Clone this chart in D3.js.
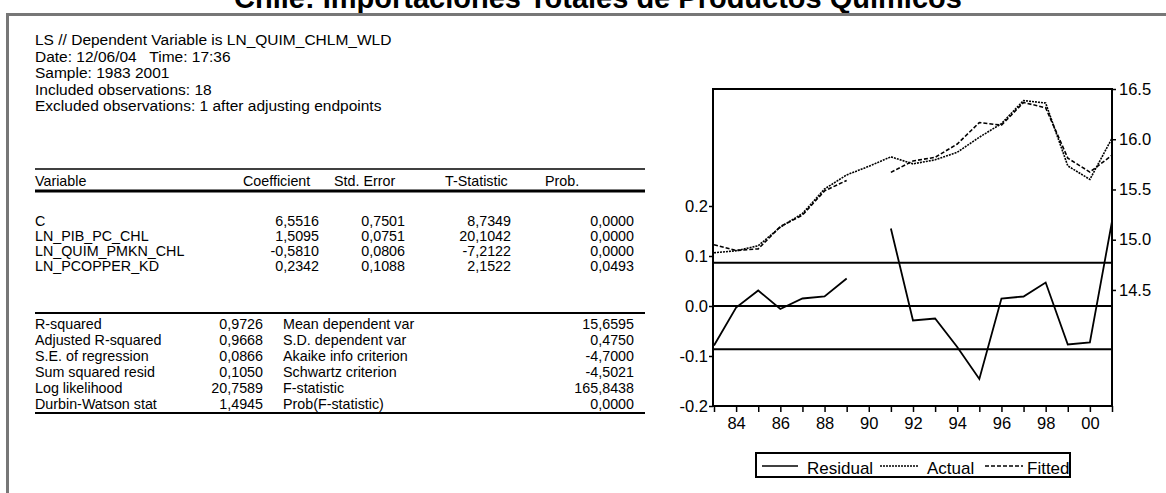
<!DOCTYPE html>
<html>
<head>
<meta charset="utf-8">
<script src="https://cdn.jsdelivr.net/npm/d3@7/dist/d3.min.js"></script>
<style>
  body { margin: 0; background: #fff; }
  svg { display: block; font-family: Arial, "Liberation Sans", sans-serif; }
  text { white-space: pre; }
</style>
</head>
<body>
<svg id="chart" width="1166" height="493"></svg>
<script>
// ---- regression output text ----
const titleText = "Chile: Importaciones Totales de Productos Químicos";
const headerLines = [
  "LS // Dependent Variable is LN_QUIM_CHLM_WLD",
  "Date: 12/06/04   Time: 17:36",
  "Sample: 1983 2001",
  "Included observations: 18",
  "Excluded observations: 1 after adjusting endpoints"
];
const coefColumns = ["Variable", "Coefficient", "Std. Error", "T-Statistic", "Prob."];
const coefVariables = ["C", "LN_PIB_PC_CHL", "LN_QUIM_PMKN_CHL", "LN_PCOPPER_KD"];
const coefValues = ["6,5516", "1,5095", "-0,5810", "0,2342"];
const coefStdErr = ["0,7501", "0,0751", "0,0806", "0,1088"];
const coefTStat = ["8,7349", "20,1042", "-7,2122", "2,1522"];
const coefProb = ["0,0000", "0,0000", "0,0000", "0,0493"];
const statNamesLeft = ["R-squared", "Adjusted R-squared", "S.E. of regression",
  "Sum squared resid", "Log likelihood", "Durbin-Watson stat"];
const statValuesLeft = ["0,9726", "0,9668", "0,0866", "0,1050", "20,7589", "1,4945"];
const statNamesRight = ["Mean dependent var", "S.D. dependent var", "Akaike info criterion",
  "Schwartz criterion", "F-statistic", "Prob(F-statistic)"];
const statValuesRight = ["15,6595", "0,4750", "-4,7000", "-4,5021", "165,8438", "0,0000"];

// ---- residual / actual / fitted series ----
const years = [1983, 1984, 1985, 1986, 1987, 1988, 1989, 1990, 1991, 1992,
  1993, 1994, 1995, 1996, 1997, 1998, 1999, 2000, 2001];
const residual = [-0.079, -0.003, 0.031, -0.006, 0.015, 0.019, 0.055, null, 0.155, -0.029,
  -0.025, -0.082, -0.146, 0.015, 0.019, 0.047, -0.077, -0.073, 0.169];
const actual = [14.870, 14.890, 14.940, 15.125, 15.260, 15.505, 15.645, 15.730, 15.825, 15.755,
  15.795, 15.870, 16.020, 16.155, 16.385, 16.360, 15.735, 15.600, 16.010];
const fitted = [14.949, 14.893, 14.909, 15.131, 15.245, 15.486, 15.590, null, 15.670, 15.784,
  15.820, 15.952, 16.166, 16.140, 16.366, 16.313, 15.812, 15.673, 15.841];
const seRegression = 0.0866;
const residTicks = [-0.2, -0.1, 0.0, 0.1, 0.2];
const levelTicks = [14.5, 15.0, 15.5, 16.0, 16.5];
const legendLabels = ["Residual", "Actual", "Fitted"];

const svg = d3.select("#chart");

// ---- page frame and title ----
svg.append("text")
  .attr("x", 598).attr("y", 8)
  .attr("text-anchor", "middle")
  .attr("font-size", 29).attr("font-weight", "bold")
  .text(titleText);
svg.append("rect").attr("x", 6).attr("y", 13).attr("width", 1166).attr("height", 3).attr("fill", "#777");
svg.append("rect").attr("x", 6).attr("y", 13).attr("width", 3).attr("height", 480).attr("fill", "#777");

// ---- estimation header ----
const left = 35;
svg.append("g").selectAll("text").data(headerLines).join("text")
  .attr("x", left).attr("y", (d, i) => 45 + i * 16.6)
  .attr("font-size", 15.5)
  .text(d => d);

// ---- coefficient table ----
const tableRight = 645;
const colRight = [null, 319, 405, 511, 634];
const headerLeft = [null, 243, 334, 445, 545];
const headerY = 186;
const tbl = svg.append("g").attr("font-size", 14.3);
tbl.append("line").attr("x1", left).attr("x2", tableRight).attr("y1", 169).attr("y2", 169)
  .attr("stroke", "#000").attr("stroke-width", 1.5);
tbl.append("line").attr("x1", left).attr("x2", tableRight).attr("y1", 191).attr("y2", 191)
  .attr("stroke", "#000").attr("stroke-width", 3);
tbl.append("text").attr("x", left).attr("y", headerY).text(coefColumns[0]);
coefColumns.slice(1).forEach((c, i) => {
  tbl.append("text").attr("x", headerLeft[i + 1]).attr("y", headerY).text(c);
});
const coefCols = [coefValues, coefStdErr, coefTStat, coefProb];
coefVariables.forEach((v, r) => {
  const y = 226 + r * 15;
  tbl.append("text").attr("x", left).attr("y", y).text(v);
  coefCols.forEach((col, c) => {
    tbl.append("text").attr("x", colRight[c + 1]).attr("y", y)
      .attr("text-anchor", "end").text(col[r]);
  });
});

// ---- summary statistics ----
tbl.append("line").attr("x1", left).attr("x2", tableRight).attr("y1", 313).attr("y2", 313)
  .attr("stroke", "#000").attr("stroke-width", 2);
tbl.append("line").attr("x1", left).attr("x2", tableRight).attr("y1", 413).attr("y2", 413)
  .attr("stroke", "#000").attr("stroke-width", 2);
statNamesLeft.forEach((n, r) => {
  const y = 329 + r * 16;
  tbl.append("text").attr("x", left).attr("y", y).text(n);
  tbl.append("text").attr("x", 263).attr("y", y).attr("text-anchor", "end").text(statValuesLeft[r]);
  tbl.append("text").attr("x", 283).attr("y", y).text(statNamesRight[r]);
  tbl.append("text").attr("x", 634).attr("y", y).attr("text-anchor", "end").text(statValuesRight[r]);
});

// ---- residual plot ----
const box = { x0: 713, x1: 1112, y0: 89, y1: 406 };
const x = d3.scaleLinear().domain([1983, 2001]).range([box.x0 + 1, box.x1]);
const yRes = d3.scaleLinear().domain([-0.2, 0.434]).range([box.y1, box.y0]);
const yLev = d3.scaleLinear().domain([13.345, 16.5]).range([box.y1, box.y0]);

const plot = svg.append("g");
const fmt = d => d.toFixed(1);

// left axis (residual scale)
const axL = plot.append("g").attr("transform", `translate(${box.x0},0)`)
  .call(d3.axisLeft(yRes).tickValues(residTicks).tickSize(4).tickPadding(1).tickFormat(fmt));
// right axis (level scale)
const axR = plot.append("g").attr("transform", `translate(${box.x1},0)`)
  .call(d3.axisRight(yLev).tickValues(levelTicks).tickSize(4).tickPadding(3).tickFormat(fmt));
// bottom axis (years)
const axB = plot.append("g").attr("transform", `translate(0,${box.y1})`)
  .call(d3.axisBottom(x).tickValues(years).tickSize(6).tickPadding(5)
    .tickFormat(d => d % 2 === 0 ? String(d).slice(2) : ""));
[axL, axR, axB].forEach(a => {
  a.select(".domain").remove();
  a.selectAll("text").attr("font-size", 16.5).attr("font-family", "Arial, 'Liberation Sans', sans-serif").attr("fill", "#000");
  a.selectAll("line").attr("stroke", "#000").attr("stroke-width", 1.5);
});

// reference lines at 0 and +/- one standard error
[seRegression, 0, -seRegression].forEach(v => {
  plot.append("line").attr("x1", box.x0).attr("x2", box.x1)
    .attr("y1", yRes(v)).attr("y2", yRes(v))
    .attr("stroke", "#000").attr("stroke-width", 2);
});

const idx = d3.range(years.length);
const lineRes = d3.line().defined(i => residual[i] != null).x(i => x(years[i])).y(i => yRes(residual[i]));
const lineAct = d3.line().defined(i => actual[i] != null).x(i => x(years[i])).y(i => yLev(actual[i]));
const lineFit = d3.line().defined(i => fitted[i] != null).x(i => x(years[i])).y(i => yLev(fitted[i]));

plot.append("path").attr("d", lineAct(idx)).attr("fill", "none")
  .attr("stroke", "#000").attr("stroke-width", 1.6).attr("stroke-dasharray", "2,1");
plot.append("path").attr("d", lineFit(idx)).attr("fill", "none")
  .attr("stroke", "#000").attr("stroke-width", 1.6).attr("stroke-dasharray", "4,2");
plot.append("path").attr("d", lineRes(idx)).attr("fill", "none")
  .attr("stroke", "#000").attr("stroke-width", 1.8);

// plot frame
plot.append("rect").attr("x", box.x0).attr("y", box.y0)
  .attr("width", box.x1 - box.x0).attr("height", box.y1 - box.y0)
  .attr("fill", "none").attr("stroke", "#000").attr("stroke-width", 2);

// ---- legend ----
const lg = svg.append("g");
lg.append("rect").attr("x", 756).attr("y", 453).attr("width", 314).attr("height", 24)
  .attr("fill", "none").attr("stroke", "#000").attr("stroke-width", 2);
const legendItems = [
  { x1: 762, x2: 798, tx: 807, dash: null },
  { x1: 880, x2: 918, tx: 927, dash: "2,1" },
  { x1: 985, x2: 1023, tx: 1027, dash: "4,2" }
];
legendItems.forEach((it, i) => {
  lg.append("line").attr("x1", it.x1).attr("x2", it.x2).attr("y1", 466).attr("y2", 466)
    .attr("stroke", "#000").attr("stroke-width", 1.6)
    .attr("stroke-dasharray", it.dash);
  lg.append("text").attr("x", it.tx).attr("y", 474).attr("font-size", 17).text(legendLabels[i]);
});
</script>
</body>
</html>
